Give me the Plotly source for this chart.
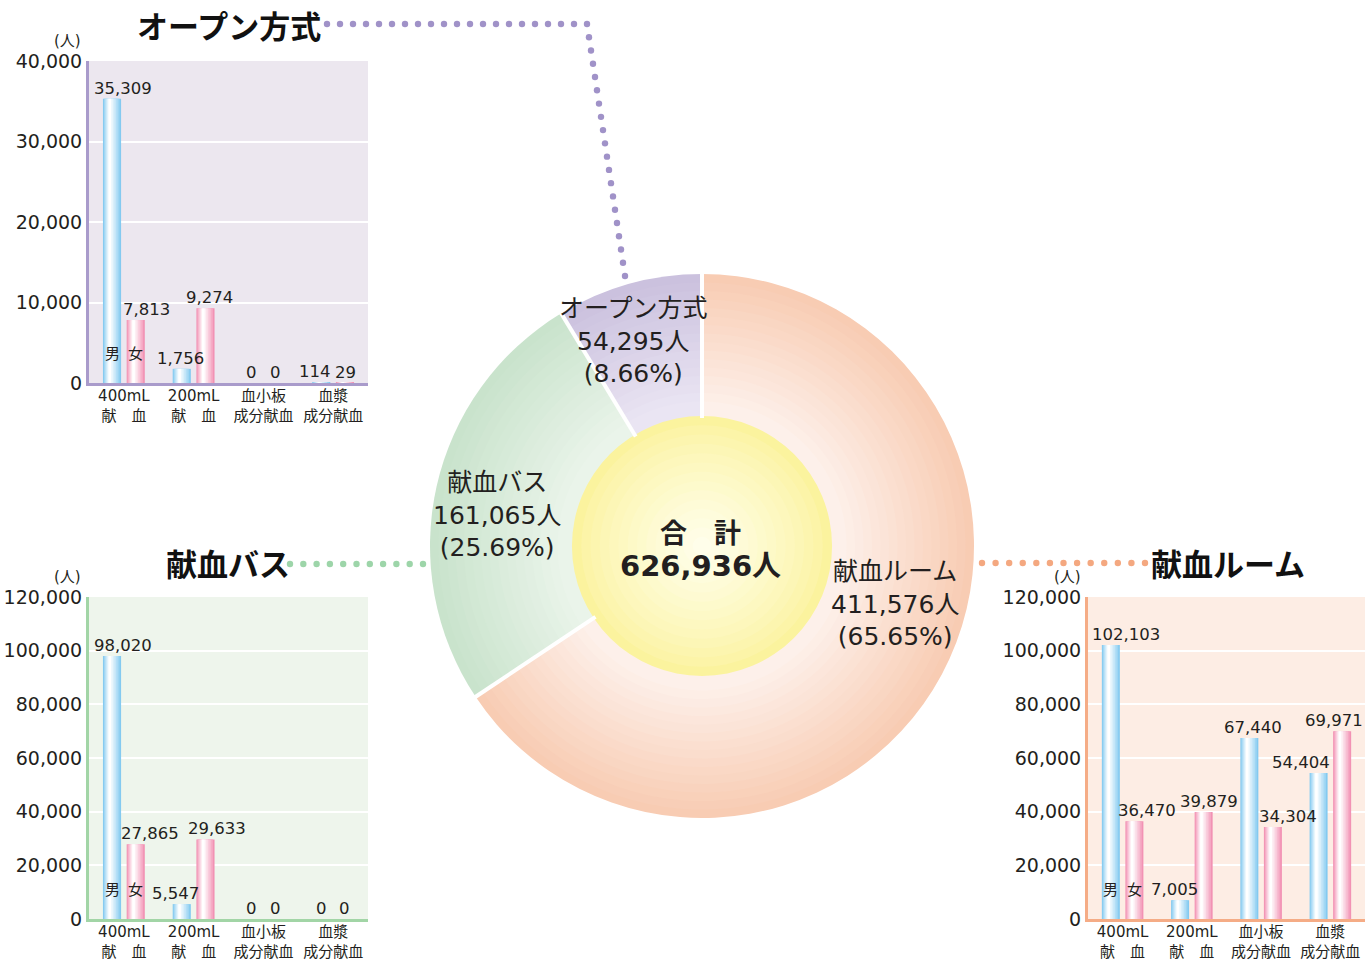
import numpy as np
import plotly.graph_objects as go

W, H = 1365, 963

# ---------------- data ----------------
categories = ["400mL<br>献　血", "200mL<br>献　血", "血小板<br>成分献血", "血漿<br>成分献血"]
open_male = [35309, 1756, 0, 114]
open_female = [7813, 9274, 0, 29]
bus_male = [98020, 5547, 0, 0]
bus_female = [27865, 29633, 0, 0]
room_male = [102103, 7005, 67440, 54404]
room_female = [36470, 39879, 34304, 69971]
venues = ["献血ルーム", "献血バス", "オープン方式"]
venue_totals = [sum(room_male) + sum(room_female),
                sum(bus_male) + sum(bus_female),
                sum(open_male) + sum(open_female)]
open_ticks = [0, 10000, 20000, 30000, 40000]
big_ticks = [0, 20000, 40000, 60000, 80000, 100000, 120000]

# ---------------- style ----------------
FONT = "DejaVu Sans, Noto Sans CJK JP, sans-serif"
JP = "Noto Sans CJK JP, sans-serif"
TXT = "#231f20"
BLUE = (132, 202, 240)
PINK = (242, 146, 180)
WHITE = (255, 255, 255)
BAR_W = 0.26
OFF = 0.17
# pixel nudges of the value labels (male / female) for each chart
nudge = {
    "x": ([11, -1, 0, -6], [11, 4, 0, 1]),
    "x2": ([11, -6, 0, 0], [14, 12, 0, 0]),
    "x3": ([15, -6, 4, -18], [13, 5, 15, -8]),
}


def P(x, y):
    return x / W, 1 - y / H


def mix(c1, c2, t):
    return "rgb(%d,%d,%d)" % tuple(round(a + (b - a) * t) for a, b in zip(c1, c2))


fig = go.Figure()
ann = []


def add_series(xa, ya, vals, sign, base, shifts):
    xs = np.arange(len(vals)) + sign * OFF
    n = 7
    for k in range(n):
        t = (k / (n - 1)) ** 0.9
        w = BAR_W * (1 - k / n)
        shift = -0.14 * BAR_W * (k / n)
        fig.add_trace(go.Bar(x=xs + shift, y=vals, width=w, xaxis=xa, yaxis=ya,
                             marker=dict(color=mix(base, WHITE, t), line=dict(width=0)),
                             hoverinfo="skip", showlegend=False))
    for x, v, s in zip(xs, vals, shifts):
        ann.append(dict(text=f"{v:,}", x=x, y=v, xref=xa, yref=ya, xanchor="center",
                        yanchor="bottom", xshift=s, yshift=-1, showarrow=False,
                        font=dict(size=16.5, color=TXT, family=FONT)))


for xa, ya, m, f in [("x", "y", open_male, open_female),
                     ("x2", "y2", bus_male, bus_female),
                     ("x3", "y3", room_male, room_female)]:
    add_series(xa, ya, m, -1, BLUE, nudge[xa][0])
    add_series(xa, ya, f, 1, PINK, nudge[xa][1])

# ---------------- donut (radial gradient via stacked pies) ----------------
CX, CY = 702, 546
R_OUT, R_IN = 272, 130
slice_outer = [(248, 204, 179), (201, 227, 204), (203, 193, 222)]
slice_inner = [(253, 240, 234), (234, 244, 234), (234, 229, 243)]
nb = 16
for k in range(nb):
    r = R_OUT - (R_OUT - R_IN - 6) * k / nb
    t = k / (nb - 1)
    cols = [mix(o, i, t) for o, i in zip(slice_outer, slice_inner)]
    fig.add_trace(go.Pie(values=venue_totals, labels=venues, sort=False, direction="clockwise",
                         rotation=0, marker=dict(colors=cols, line=dict(width=0)),
                         textinfo="none", hoverinfo="skip", showlegend=False,
                         domain=dict(x=[(CX - r) / W, (CX + r) / W],
                                     y=[(H - CY - r) / H, (H - CY + r) / H])))

yel_edge = (251, 243, 158)
yel_center = (255, 254, 234)
ny = 14
for k in range(ny):
    r = R_IN * (1 - k / ny)
    fig.add_trace(go.Pie(values=[1], labels=["合計"], sort=False,
                         marker=dict(colors=[mix(yel_edge, yel_center, (k / (ny - 1)) ** 0.8)],
                                     line=dict(width=0)),
                         textinfo="none", hoverinfo="skip", showlegend=False,
                         domain=dict(x=[(CX - r) / W, (CX + r) / W],
                                     y=[(H - CY - r) / H, (H - CY + r) / H])))

shapes = []
# white separators between slices
total = sum(venue_totals)
bounds = np.concatenate([[0], np.cumsum(venue_totals)[:-1]]) / total * 2 * np.pi
for a in bounds:
    x0, y0 = P(CX + (R_IN - 2) * np.sin(a), CY - (R_IN - 2) * np.cos(a))
    x1, y1 = P(CX + (R_OUT + 4) * np.sin(a), CY - (R_OUT + 4) * np.cos(a))
    shapes.append(dict(type="line", xref="paper", yref="paper", x0=x0, y0=y0, x1=x1, y1=y1,
                       line=dict(color="white", width=4), layer="above"))

# chart backgrounds
for xa, ya, c in [("x", "y", "#ECE7EF"), ("x2", "y2", "#EEF5EC"), ("x3", "y3", "#FDEDE4")]:
    shapes.append(dict(type="rect", xref=f"{xa} domain", yref=f"{ya} domain", x0=0, x1=1, y0=0, y1=1,
                       fillcolor=c, line=dict(width=0), layer="below"))


# dotted connectors
def dots(pts, color, step=13.3, d=6.4):
    out = []
    for (xa_, ya_), (xb, yb) in zip(pts[:-1], pts[1:]):
        L = np.hypot(xb - xa_, yb - ya_)
        n = int(round(L / step))
        for i in range(n + (1 if (xb, yb) == pts[-1] else 0)):
            tt = i / n
            x = xa_ + (xb - xa_) * tt
            y = ya_ + (yb - ya_) * tt
            u0, v1 = P(x - d / 2, y - d / 2)
            u1, v0 = P(x + d / 2, y + d / 2)
            out.append(dict(type="circle", xref="paper", yref="paper", x0=u0, x1=u1, y0=v0, y1=v1,
                            fillcolor=color, line=dict(width=0), layer="above"))
    return out


shapes += dots([(327, 24), (587, 24), (625, 276)], "#A092C8")
shapes += dots([(290, 564), (423, 564)], "#9DD5A9")
shapes += dots([(982, 563), (1145, 563)], "#F4A880")


# ---------------- axes ----------------
def xax(domain, anchor, lc):
    return dict(domain=domain, anchor=anchor, range=[-0.5, 3.5], tickvals=[0, 1, 2, 3],
                ticktext=categories, showline=True, linewidth=3, linecolor=lc, showgrid=False,
                zeroline=False, ticks="", ticklabelstandoff=-3,
                tickfont=dict(size=15, color=TXT, family=FONT),
                fixedrange=True, automargin=False)


def yax(domain, anchor, lc, rng, tv):
    return dict(domain=domain, anchor=anchor, range=rng, tickvals=tv, tickformat=",d",
                showline=True, linewidth=3, linecolor=lc, showgrid=True, gridcolor="white",
                gridwidth=2, zeroline=False, ticks="", ticklabelstandoff=0,
                tickfont=dict(size=19, color=TXT, family=FONT), fixedrange=True,
                automargin=False)


xd_left = [89 / W, 368 / W]
xd_right = [1088 / W, 1.0]
yd_top = [1 - 383 / H, 1 - 61 / H]
yd_bot = [1 - 919 / H, 1 - 597 / H]


# ---------------- annotations ----------------
def A(text, x, y, size, bold=False, family=FONT, color=TXT):
    u, v = P(x, y)
    ann.append(dict(text=f"<b>{text}</b>" if bold else text, x=u, y=v, xref="paper", yref="paper",
                    showarrow=False, font=dict(size=size, color=color, family=family),
                    xanchor="center", yanchor="middle"))


A("オープン方式", 229, 25, 31, bold=True, family=JP, color="#111")
A("献血バス", 228, 562, 31, bold=True, family=JP, color="#111")
A("献血ルーム", 1228, 562, 31, bold=True, family=JP, color="#111")
A("(人)", 67, 41, 15)
A("(人)", 67, 577, 15)
A("(人)", 1067, 577, 15)

for xa, ya in [("x", "y"), ("x2", "y2"), ("x3", "y3")]:
    for sign, ch in [(-1, "男"), (1, "女")]:
        ann.append(dict(text=ch, x=0 + sign * OFF, y=0.095, xref=xa, yref=f"{ya} domain",
                        xanchor="center", yanchor="middle", showarrow=False,
                        font=dict(size=15, color=TXT, family=JP)))

pcts = [v / total * 100 for v in venue_totals]
label_pos = [(895, 604), (497, 515), (633, 341)]
for name, v, p, (lx, ly) in zip(venues, venue_totals, pcts, label_pos):
    A(f"{name}<br>{v:,}人<br>({p:.2f}%)", lx, ly, 25)

A("合　計", 701, 533, 27, bold=True)
A(f"{total:,}人", 701, 566, 29, bold=True)

fig.update_layout(
    width=W, height=H, margin=dict(l=0, r=0, t=0, b=0, autoexpand=False),
    paper_bgcolor="white", plot_bgcolor="rgba(0,0,0,0)",
    barmode="overlay", showlegend=False, font=dict(family=FONT, color=TXT),
    xaxis=xax(xd_left, "y", "#A99BCB"),
    yaxis=yax(yd_top, "x", "#A99BCB", [0, 40000], open_ticks),
    xaxis2=xax(xd_left, "y2", "#A2D5A6"),
    yaxis2=yax(yd_bot, "x2", "#A2D5A6", [0, 120000], big_ticks),
    xaxis3=xax(xd_right, "y3", "#F5AC86"),
    yaxis3=yax(yd_bot, "x3", "#F5AC86", [0, 120000], big_ticks),
    shapes=shapes, annotations=ann,
)

fig.write_html("out.html", config={"displayModeBar": False},
               post_script="document.body.style.margin='0';document.body.style.overflow='hidden';")
